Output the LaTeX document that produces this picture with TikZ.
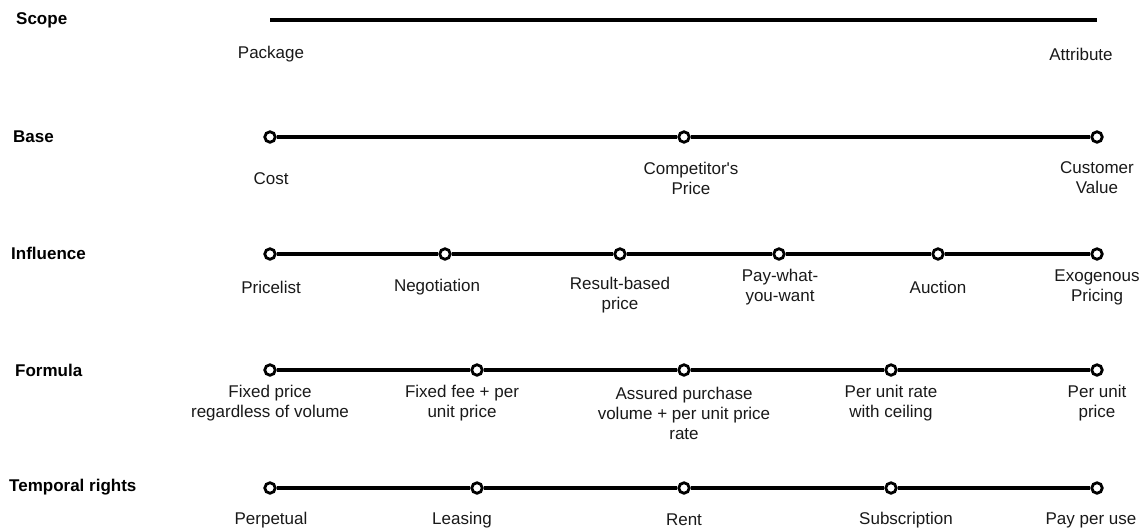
\documentclass[tikz,border=0pt]{standalone}
\usepackage{fontspec}
\setmainfont{Liberation Sans}
\begin{document}
\begin{tikzpicture}[x=1pt,y=-1pt,
  axis/.style={line width=3.8pt,black},
  dot/.style={circle,draw=black,fill=white,line width=2.8pt,minimum size=10.5pt,inner sep=0pt},
  dimlabel/.style={font=\bfseries\fontsize{17}{20}\selectfont,anchor=west,inner sep=0pt},
  val/.style={font=\fontsize{17}{20}\selectfont,align=center,inner sep=0pt,text=black!90}]
\useasboundingbox (0,0) rectangle (1147,531);

% dimension names
\node[dimlabel] (lscope) at (16,20) {Scope};
\node[dimlabel] (lbase) at (13,137) {Base};
\node[dimlabel] (linfl) at (11,253) {Influence};
\node[dimlabel] (lform) at (15,370) {Formula};
\node[dimlabel] (ltemp) at (9,487) {Temporal rights};

% Scope: continuous scale
\coordinate (s1) at (270,20);
\coordinate (s2) at (1097,20);
\draw[axis] (s1) -- (s2);
\node[val] (ts1) at (271,54) {Package};
\node[val] (ts2) at (1081,54) {Attribute};

% Base
\node[dot] (b1) at (270,137) {};
\node[dot] (b2) at (684,137) {};
\node[dot] (b3) at (1097,137) {};
\draw[axis] (b1) -- (b2);
\draw[axis] (b2) -- (b3);
\node[val] (tb1) at (271,179) {Cost};
\node[val] (tb2) at (691,178) {Competitor\textquotesingle s\\Price};
\node[val] (tb3) at (1097,178) {Customer\\Value};

% Influence
\node[dot] (i1) at (270,254) {};
\node[dot] (i2) at (445,254) {};
\node[dot] (i3) at (620,254) {};
\node[dot] (i4) at (779,254) {};
\node[dot] (i5) at (938,254) {};
\node[dot] (i6) at (1097,254) {};
\draw[axis] (i1) -- (i2);
\draw[axis] (i2) -- (i3);
\draw[axis] (i3) -- (i4);
\draw[axis] (i4) -- (i5);
\draw[axis] (i5) -- (i6);
\node[val] (ti1) at (271,287) {Pricelist};
\node[val] (ti2) at (437,287) {Negotiation};
\node[val] (ti3) at (620,295) {Result-based\\price};
\node[val] (ti4) at (780,287.5) {Pay-what-\\you-want};
\node[val] (ti5) at (938,287) {Auction};
\node[val] (ti6) at (1097,287.5) {Exogenous\\Pricing};

% Formula
\node[dot] (f1) at (270,370) {};
\node[dot] (f2) at (477,370) {};
\node[dot] (f3) at (684,370) {};
\node[dot] (f4) at (891,370) {};
\node[dot] (f5) at (1097,370) {};
\draw[axis] (f1) -- (f2);
\draw[axis] (f2) -- (f3);
\draw[axis] (f3) -- (f4);
\draw[axis] (f4) -- (f5);
\node[val] (tf1) at (270,403) {Fixed price\\regardless of volume};
\node[val] (tf2) at (462,403) {Fixed fee + per\\unit price};
\node[val] (tf3) at (684,413) {Assured purchase\\volume + per unit price\\rate};
\node[val] (tf4) at (891,403) {Per unit rate\\with ceiling};
\node[val] (tf5) at (1097,403) {Per unit\\price};

% Temporal rights
\node[dot] (r1) at (270,488) {};
\node[dot] (r2) at (477,488) {};
\node[dot] (r3) at (684,488) {};
\node[dot] (r4) at (891,488) {};
\node[dot] (r5) at (1097,488) {};
\draw[axis] (r1) -- (r2);
\draw[axis] (r2) -- (r3);
\draw[axis] (r3) -- (r4);
\draw[axis] (r4) -- (r5);
\node[val] (tr1) at (271,520) {Perpetual};
\node[val] (tr2) at (462,520) {Leasing};
\node[val] (tr3) at (684,520) {Rent};
\node[val] (tr4) at (906,520) {Subscription};
\node[val] (tr5) at (1091,520) {Pay per use};
\end{tikzpicture}
\end{document}
